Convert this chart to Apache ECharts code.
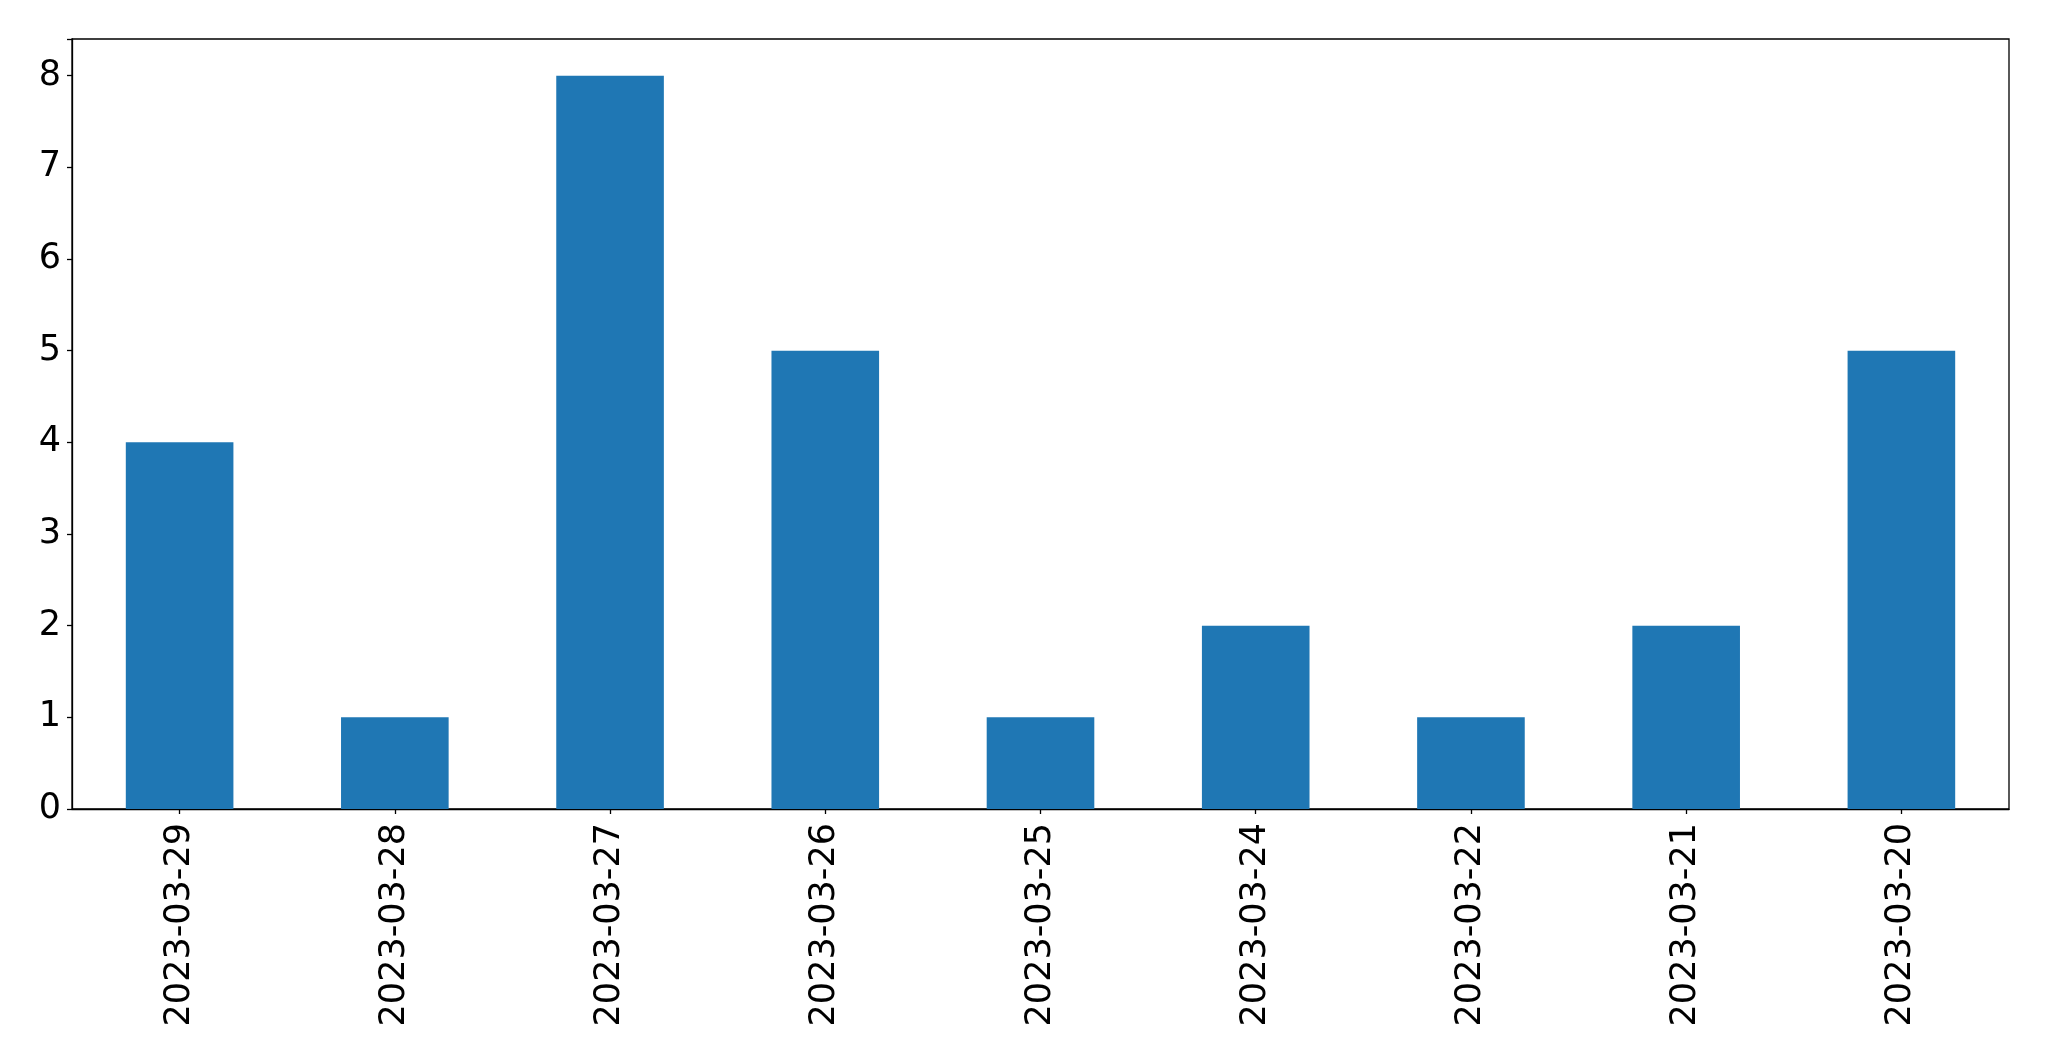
<!DOCTYPE html>
<html>
<head>
<meta charset="utf-8">
<script src="https://cdn.jsdelivr.net/npm/echarts@6/dist/echarts.min.js"></script>
<style>
html,body{margin:0;padding:0;background:#fff;}
#chart{width:2049px;height:1061px;}
</style>
</head>
<body>
<div id="chart"></div>
<script>
const categories = ["2023-03-29","2023-03-28","2023-03-27","2023-03-26","2023-03-25","2023-03-24","2023-03-22","2023-03-21","2023-03-20"];
const values = [4, 1, 8, 5, 1, 2, 1, 2, 5];
const yTicks = [0, 1, 2, 3, 4, 5, 6, 7, 8];

const chart = echarts.init(document.getElementById('chart'), null, {renderer: 'canvas'});
const font = 'DejaVu Sans';
chart.setOption({
  animation: false,
  backgroundColor: '#ffffff',
  grid: {
    left: 72, right: 40, top: 39, bottom: 252,
    show: true, borderColor: '#000000', borderWidth: 1.3, backgroundColor: 'transparent'
  },
  xAxis: {
    type: 'category',
    data: categories,
    axisLine: {show: true, lineStyle: {color: '#000', width: 1.3}},
    axisTick: {show: true, alignWithLabel: true, length: 5, lineStyle: {color: '#000', width: 1.3}},
    axisLabel: {rotate: 90, color: '#000', fontFamily: font, fontSize: 35, margin: 14},
    splitLine: {show: false}
  },
  yAxis: {
    type: 'value',
    min: 0, max: 8.4, interval: 1,
    axisLine: {show: true, lineStyle: {color: '#000', width: 1.3}},
    axisTick: {show: true, length: 5, lineStyle: {color: '#000', width: 1.3}},
    axisLabel: {color: '#000', fontFamily: font, fontSize: 35, margin: 11,
      formatter: function (v) { return yTicks.indexOf(v) >= 0 ? String(v) : ''; }},
    splitLine: {show: false}
  },
  series: [{
    type: 'bar',
    data: values,
    barWidth: '50%',
    itemStyle: {color: '#1f77b4'}
  }]
});
</script>
</body>
</html>
